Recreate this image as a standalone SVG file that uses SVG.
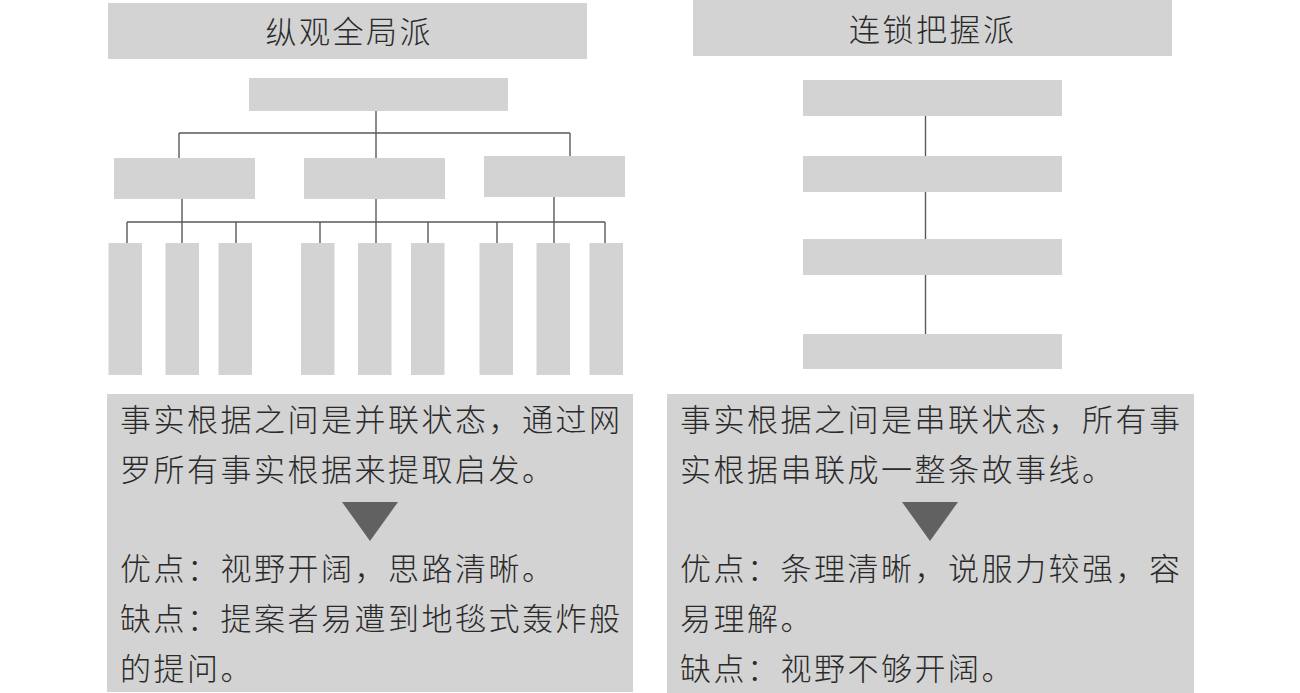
<svg xmlns="http://www.w3.org/2000/svg" width="1300" height="693" viewBox="0 0 1300 693">
<style>
.box{fill:#d3d3d3}
.leaf{fill:#d3d3d3}
.conn{stroke:#5a5a5a;stroke-width:1.4;fill:none}
.tri{fill:#616161}
.t{font-family:"Noto Sans CJK SC","Noto Sans",sans-serif;font-size:31px;font-weight:300;fill:#2a2a2a;letter-spacing:2.5px}
</style>
<rect width="1300" height="693" fill="#ffffff"/>

<!-- Left column -->
<g id="title-left">
<rect class="box" x="108" y="3" width="479" height="56"/>
<text class="t" x="265.5" y="43">纵观全局派</text>
</g>
<g id="l-top"><rect class="box" x="249" y="78" width="259" height="33"/></g>
<g id="l-mid1"><rect class="box" x="114" y="158" width="141" height="41"/></g>
<g id="l-mid2"><rect class="box" x="304" y="158" width="141" height="41"/></g>
<g id="l-mid3"><rect class="box" x="484" y="156" width="141" height="41"/></g>
<g id="l-leaf1"><rect class="leaf" x="108.5" y="243" width="33.5" height="132"/></g>
<g id="l-leaf2"><rect class="leaf" x="165.5" y="243" width="33.5" height="132"/></g>
<g id="l-leaf3"><rect class="leaf" x="218.5" y="243" width="33.5" height="132"/></g>
<g id="l-leaf4"><rect class="leaf" x="301" y="243" width="33.5" height="132"/></g>
<g id="l-leaf5"><rect class="leaf" x="358" y="243" width="33.5" height="132"/></g>
<g id="l-leaf6"><rect class="leaf" x="411" y="243" width="33.5" height="132"/></g>
<g id="l-leaf7"><rect class="leaf" x="479.5" y="243" width="33.5" height="132"/></g>
<g id="l-leaf8"><rect class="leaf" x="536.5" y="243" width="33.5" height="132"/></g>
<g id="l-leaf9"><rect class="leaf" x="589.5" y="243" width="33.5" height="132"/></g>

<!-- Right column -->
<g id="title-right">
<rect class="box" x="693" y="0" width="479" height="56"/>
<text class="t" x="849" y="40.5">连锁把握派</text>
</g>
<g id="r-box1"><rect class="box" x="803" y="80" width="259" height="36"/></g>
<g id="r-box2"><rect class="box" x="803" y="156" width="259" height="36"/></g>
<g id="r-box3"><rect class="box" x="803" y="239" width="259" height="36"/></g>
<g id="r-box4"><rect class="box" x="803" y="334" width="259" height="35"/></g>

<!-- Connectors -->
<g id="connectors">
<path class="conn" d="M376 111 V133 M179 133 H570 M179 133 V158 M376 133 V158 M570 133 V156"/>
<path class="conn" d="M182 199 V222 M376 199 V222 M554 197 V222 M127 222 H605"/>
<path class="conn" d="M127 222 V243 M182 222 V243 M236 222 V243 M320 222 V243 M376 222 V243 M428 222 V243 M497 222 V243 M554 222 V243 M605 222 V243"/>
<path class="conn" d="M925.5 116 V156 M925.5 192 V239 M925.5 275 V334"/>
</g>

<!-- Description boxes -->
<g id="desc-left">
<rect class="box" x="107" y="394" width="526" height="298"/>
<text class="t" x="120" y="431">事实根据之间是并联状态，通过网</text>
<text class="t" x="120" y="481">罗所有事实根据来提取启发。</text>
<polygon class="tri" points="342,502 398,502 370,541"/>
<text class="t" x="120" y="580">优点：视野开阔，思路清晰。</text>
<text class="t" x="120" y="630">缺点：提案者易遭到地毯式轰炸般</text>
<text class="t" x="120" y="680">的提问。</text>
</g>
<g id="desc-right">
<rect class="box" x="667" y="394" width="527" height="299"/>
<text class="t" x="680" y="431">事实根据之间是串联状态，所有事</text>
<text class="t" x="680" y="481">实根据串联成一整条故事线。</text>
<polygon class="tri" points="902,502 958,502 930,541"/>
<text class="t" x="680" y="580">优点：条理清晰，说服力较强，容</text>
<text class="t" x="680" y="630">易理解。</text>
<text class="t" x="680" y="680">缺点：视野不够开阔。</text>
</g>
</svg>
